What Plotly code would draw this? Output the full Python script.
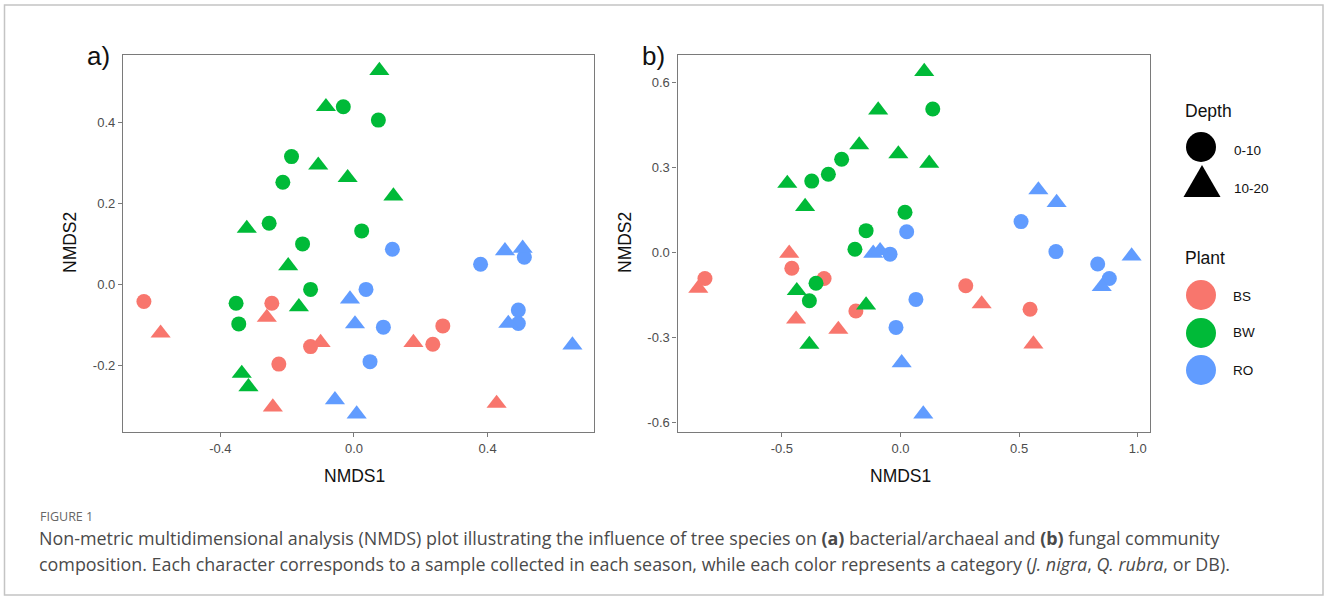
import plotly.graph_objects as go

# ---------------- data (NMDS scores) ----------------
PLANTS = ["BS", "BW", "RO"]
DEPTHS = ["0-10", "10-20"]
COLORS = {"BS": "#F8766D", "BW": "#00BA38", "RO": "#619CFF"}

# Panel a) bacterial/archaeal
A_BS_0_10 = [(-0.629, -0.042), (-0.246, -0.046), (-0.130, -0.153), (-0.225, -0.196), (0.236, -0.147), (0.266, -0.102)]
A_BS_10_20 = [(-0.579, -0.120), (-0.261, -0.081), (-0.100, -0.143), (-0.243, -0.302), (0.178, -0.143), (0.427, -0.293)]
A_BW_0_10 = [(-0.032, 0.438), (-0.187, 0.315), (0.073, 0.405), (-0.213, 0.252), (-0.254, 0.151), (-0.154, 0.100),
             (0.023, 0.132), (-0.130, -0.012), (-0.353, -0.046), (-0.345, -0.097)]
A_BW_10_20 = [(-0.084, 0.438), (0.076, 0.527), (-0.107, 0.294), (-0.019, 0.263), (0.118, 0.218), (-0.321, 0.138),
              (-0.197, 0.046), (-0.165, -0.055), (-0.336, -0.219), (-0.316, -0.252)]
A_RO_0_10 = [(0.115, 0.087), (0.036, -0.012), (0.088, -0.105), (0.048, -0.190), (0.379, 0.050), (0.510, 0.067),
             (0.492, -0.063), (0.492, -0.096)]
A_RO_10_20 = [(-0.012, -0.036), (0.003, -0.097), (-0.057, -0.284), (0.008, -0.319), (0.452, 0.083), (0.505, 0.089),
              (0.462, -0.096), (0.654, -0.149)]

# Panel b) fungal
B_BS_0_10 = [(-0.824, -0.091), (-0.458, -0.055), (-0.322, -0.091), (-0.188, -0.206), (0.275, -0.117), (0.546, -0.200)]
B_BS_10_20 = [(-0.852, -0.126), (-0.469, -0.002), (-0.440, -0.235), (-0.262, -0.271), (0.342, -0.181), (0.560, -0.323)]
B_BW_0_10 = [(0.136, 0.508), (-0.248, 0.330), (-0.304, 0.277), (-0.374, 0.253), (0.019, 0.143), (-0.145, 0.078),
             (-0.192, 0.012), (-0.384, -0.170), (-0.356, -0.108)]
B_BW_10_20 = [(0.100, 0.640), (-0.094, 0.504), (-0.174, 0.381), (-0.009, 0.349), (0.121, 0.316), (-0.477, 0.245),
              (-0.402, 0.163), (-0.437, -0.134), (-0.384, -0.324), (-0.145, -0.185)]
B_RO_0_10 = [(0.026, 0.074), (-0.044, -0.005), (-0.019, -0.264), (0.065, -0.165), (0.508, 0.110), (0.655, 0.004),
             (0.831, -0.040), (0.880, -0.091)]
B_RO_10_20 = [(-0.115, -0.002), (-0.086, 0.007), (0.005, -0.389), (0.096, -0.570), (0.581, 0.222), (0.658, 0.177),
              (0.848, -0.120), (0.974, -0.012)]

A_XTICKS = [-0.4, 0.0, 0.4]
A_YTICKS = [-0.2, 0.0, 0.2, 0.4]
B_XTICKS = [-0.5, 0.0, 0.5, 1.0]
B_YTICKS = [-0.6, -0.3, 0.0, 0.3, 0.6]

PANEL_A = {("BS", "0-10"): A_BS_0_10, ("BS", "10-20"): A_BS_10_20,
           ("BW", "0-10"): A_BW_0_10, ("BW", "10-20"): A_BW_10_20,
           ("RO", "0-10"): A_RO_0_10, ("RO", "10-20"): A_RO_10_20}
PANEL_B = {("BS", "0-10"): B_BS_0_10, ("BS", "10-20"): B_BS_10_20,
           ("BW", "0-10"): B_BW_0_10, ("BW", "10-20"): B_BW_10_20,
           ("RO", "0-10"): B_RO_0_10, ("RO", "10-20"): B_RO_10_20}

# ---------------- layout helpers ----------------
W, H = 1328, 601
def px(x):
    return x / W
def py(y):
    return 1 - y / H

SYMBOL = {"0-10": "circle", "10-20": "triangle-up"}
SIZE = {"0-10": 15, "10-20": 17.5}

fig = go.Figure()
for panel, (xa, ya) in ((PANEL_A, ("x", "y")), (PANEL_B, ("x2", "y2"))):
    for plant in PLANTS:
        for depth in DEPTHS:
            pts = panel[(plant, depth)]
            fig.add_trace(go.Scatter(
                x=[p[0] for p in pts], y=[p[1] for p in pts],
                mode="markers", xaxis=xa, yaxis=ya, showlegend=False,
                marker=dict(symbol=SYMBOL[depth], size=SIZE[depth], color=COLORS[plant],
                            line=dict(width=0)),
                name=f"{plant} {depth}"))

def fmt(v):
    return f"{v:.1f}"

AXCOL = "#7a7a7a"
TICKFONT = dict(family="Liberation Sans, Arial, sans-serif", size=13, color="#4d4d4d")
common = dict(showline=True, linecolor=AXCOL, linewidth=1.3, mirror=True, showgrid=False,
              zeroline=False, ticks="outside", ticklen=4, tickcolor=AXCOL, tickwidth=1.2,
              tickfont=TICKFONT)

fig.update_layout(
    width=W, height=H, margin=dict(l=0, r=0, t=0, b=0),
    plot_bgcolor="white", paper_bgcolor="white", showlegend=False,
    xaxis=dict(domain=[px(123), px(594)], range=[-0.6916, 0.7186], anchor="y",
               tickvals=A_XTICKS, ticktext=[fmt(v) for v in A_XTICKS], **common),
    yaxis=dict(domain=[py(432), py(55)], range=[-0.3633, 0.5653], anchor="x",
               tickvals=A_YTICKS, ticktext=[fmt(v) for v in A_YTICKS], **common),
    xaxis2=dict(domain=[px(677.5), px(1150)], range=[-0.9397, 1.0514], anchor="y2",
                tickvals=B_XTICKS, ticktext=[fmt(v) for v in B_XTICKS], **common),
    yaxis2=dict(domain=[py(432.3), py(54.5)], range=[-0.6346, 0.7004], anchor="x2",
                tickvals=B_YTICKS, ticktext=[fmt(v) for v in B_YTICKS], **common),
)

ann = []
TFONT = "Liberation Sans, Arial, sans-serif"
def text(x, y, s, size, color="#111", xanchor="center", yanchor="middle", family=TFONT, angle=0):
    ann.append(dict(x=px(x), y=py(y), xref="paper", yref="paper", text=s, showarrow=False,
                    xanchor=xanchor, yanchor=yanchor, textangle=angle,
                    font=dict(family=family, size=size, color=color)))

# panel labels
text(98, 56, "a)", 26)
text(653, 56, "b)", 26)
# axis titles
text(354, 476, "NMDS1", 17.5)
text(900, 476, "NMDS1", 17.5)
text(70, 243, "NMDS2", 17.5, angle=-90)
text(625, 243, "NMDS2", 17.5, angle=-90)

# legend
text(1183, 111, "Depth", 17.5, xanchor="left")
text(1232, 150, "0-10", 13.5, xanchor="left")
text(1232, 189, "10-20", 13.5, xanchor="left")
text(1183, 258, "Plant", 17.5, xanchor="left")
for lab, yy in zip(PLANTS, (296, 333, 370)):
    text(1231, yy, lab, 13.5, xanchor="left")

# caption
CAPFONT = "Open Sans, Noto Sans, sans-serif"
text(38, 516, "FIGURE 1", 12.5, color="#666", xanchor="left", family=CAPFONT)
text(37, 538, "Non-metric multidimensional analysis (NMDS) plot illustrating the influence of tree species on "
     "<b>(a)</b> bacterial/archaeal and <b>(b)</b> fungal community", 17.9, color="#4a4a4a", xanchor="left",
     family=CAPFONT)
text(37, 564, "composition. Each character corresponds to a sample collected in each season, while each color "
     "represents a category (<i>J. nigra</i>, <i>Q. rubra</i>, or DB).", 17.9, color="#4a4a4a",
     xanchor="left", family=CAPFONT)

shapes = []
# outer frame
shapes.append(dict(type="rect", xref="paper", yref="paper", x0=px(4.5), x1=px(1323), y0=py(595), y1=py(5),
                   line=dict(color="#c4c4c4", width=1.5), fillcolor="rgba(0,0,0,0)", layer="below"))

def circle(cx, cy, r, color):
    shapes.append(dict(type="circle", xref="paper", yref="paper",
                       x0=px(cx - r), x1=px(cx + r), y0=py(cy + r), y1=py(cy - r),
                       fillcolor=color, line=dict(width=0)))

def triangle(cx, top, bottom, half_w, color):
    path = (f"M {px(cx - half_w)},{py(bottom)} L {px(cx + half_w)},{py(bottom)} "
            f"L {px(cx)},{py(top)} Z")
    shapes.append(dict(type="path", xref="paper", yref="paper", path=path,
                       fillcolor=color, line=dict(width=0)))

circle(1201, 147, 15, "black")
triangle(1202, 165, 197, 18.5, "black")
for lab, yy in zip(PLANTS, (295, 333, 370)):
    circle(1201, yy, 15, COLORS[lab])

fig.update_layout(annotations=ann, shapes=shapes)
fig.write_html("out.html", config={"displayModeBar": False},
               post_script="document.body.style.margin='0';document.body.style.overflow='hidden';")
